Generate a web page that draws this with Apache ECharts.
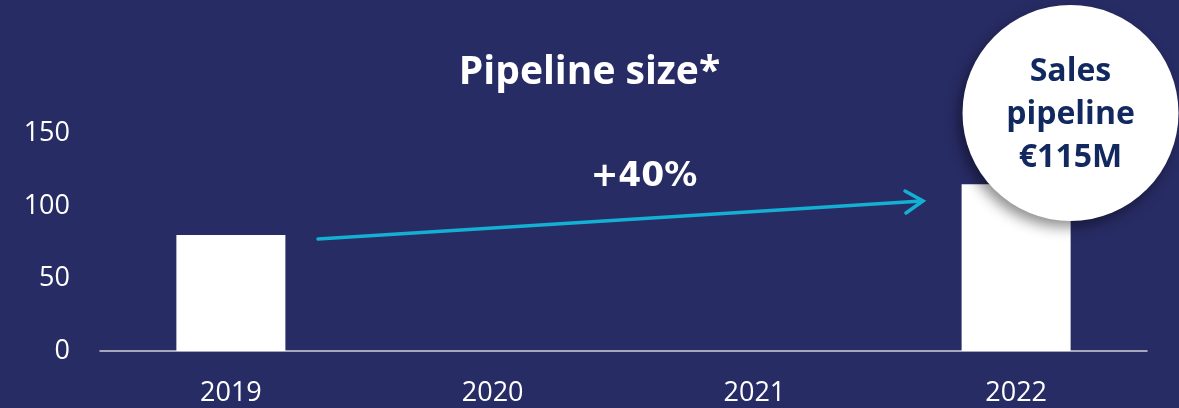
<!DOCTYPE html>
<html>
<head>
<meta charset="utf-8">
<script src="https://cdn.jsdelivr.net/npm/echarts@6/dist/echarts.min.js"></script>
<style>
  html, body { margin: 0; padding: 0; background: #282c65; }
  #chart { width: 1179px; height: 408px; }
</style>
</head>
<body>
<div id="chart"></div>
<script>
// data
var years = ["2019", "2020", "2021", "2022"];
var pipeline = [80, null, null, 115];
var yTicks = [0, 50, 100, 150];

var chart = echarts.init(document.getElementById("chart"));

var option = {
  backgroundColor: "#282c65",
  animation: false,
  title: {
    text: "Pipeline size*",
    left: "center",
    top: 48,
    textStyle: {
      color: "#ffffff",
      fontFamily: "Open Sans",
      fontWeight: "bold",
      fontSize: 39
    }
  },
  grid: {
    left: 100,
    right: 32,
    top: 133.5,
    bottom: 57,
    containLabel: false,
    outerBoundsMode: "none"
  },
  xAxis: {
    type: "category",
    data: years,
    axisLine: { lineStyle: { color: "#cfd0da", width: 1.5 } },
    axisTick: { show: false },
    axisLabel: {
      color: "#ffffff",
      fontFamily: "Open Sans",
      fontSize: 27,
      margin: 29
    }
  },
  yAxis: {
    type: "value",
    min: yTicks[0],
    max: yTicks[yTicks.length - 1],
    interval: yTicks[1] - yTicks[0],
    splitLine: { show: false },
    axisLine: { show: false },
    axisTick: { show: false },
    axisLabel: {
      color: "#ffffff",
      fontFamily: "Open Sans",
      fontSize: 27,
      margin: 30
    }
  },
  series: [
    {
      name: "Pipeline",
      type: "bar",
      barWidth: 109,
      itemStyle: { color: "#ffffff" },
      data: pipeline
    }
  ],
  graphic: [
    {
      // growth arrow
      type: "line",
      z: 10,
      shape: { x1: 318, y1: 239, x2: 922, y2: 201 },
      style: { stroke: "#13b0d3", lineWidth: 3.5, lineCap: "round" }
    },
    {
      type: "polyline",
      z: 10,
      shape: { points: [[905, 191], [923, 201], [906, 213]] },
      style: { stroke: "#13b0d3", lineWidth: 3.5, fill: null, lineCap: "round", lineJoin: "miter" }
    },
    {
      type: "text",
      z: 10,
      style: {
        x: 644,
        y: 177,
        text: "+40%",
        fill: "#ffffff",
        font: "bold 33px 'DejaVu Sans'",
        align: "center",
        verticalAlign: "middle"
      }
    },
    {
      // callout bubble
      type: "circle",
      z: 20,
      shape: { cx: 1070.5, cy: 113, r: 108 },
      style: {
        fill: "#ffffff",
        shadowBlur: 14,
        shadowOffsetX: -4,
        shadowOffsetY: 6,
        shadowColor: "rgba(0,0,0,0.45)"
      }
    },
    {
      type: "text",
      z: 21,
      style: {
        x: 1070.5,
        y: 115,
        text: "Sales\npipeline\n€115M",
        fill: "#11295f",
        font: "bold 32px 'Open Sans'",
        lineHeight: 43,
        align: "center",
        verticalAlign: "middle"
      }
    }
  ]
};

chart.setOption(option);
</script>
</body>
</html>
